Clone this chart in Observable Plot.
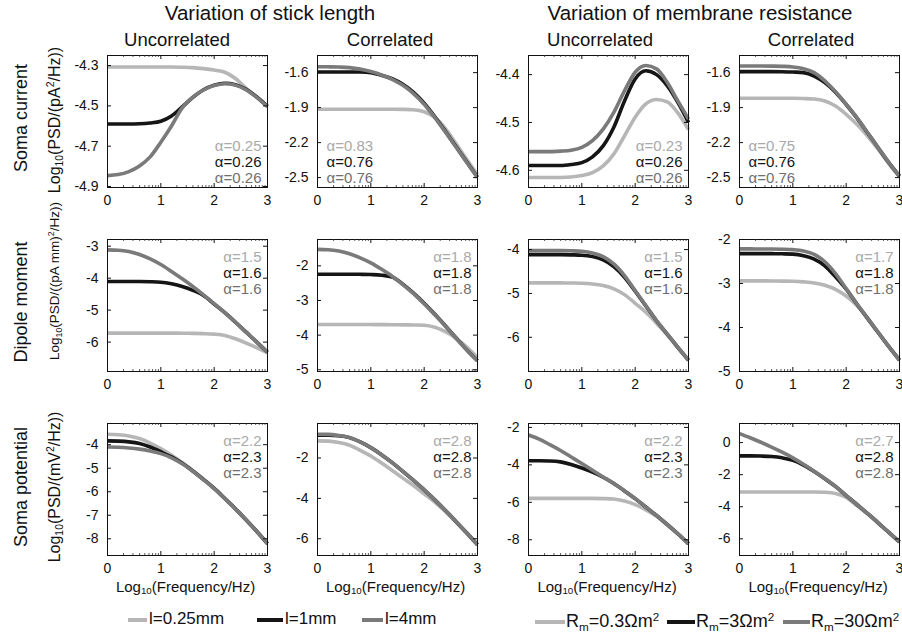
<!DOCTYPE html>
<html><head><meta charset="utf-8">
<script src="https://cdn.jsdelivr.net/npm/d3@7"></script>
<script src="https://cdn.jsdelivr.net/npm/@observablehq/plot@0.6"></script>
<style>
body{margin:0;background:#fff;}
#fig{position:relative;width:902px;height:635px;font-family:"Liberation Sans",Arial,Helvetica,sans-serif;color:#111;overflow:hidden;background:#fff;}
.lbl{position:absolute;white-space:nowrap;line-height:1;}
.c{transform:translate(-50%,-50%);}
.l{transform:translate(0,-50%);}
.rot{transform:translate(-50%,-50%) rotate(-90deg);}
.lbl sub{font-size:65%;line-height:0;vertical-align:-0.3em;}
.lbl sup{font-size:65%;line-height:0;vertical-align:0.55em;}
.swatch{position:absolute;height:4px;}
</style></head><body><div id="fig"></div>
<script>
// ---------------- data ----------------
const freq = [0, 0.2, 0.4, 0.6, 0.8, 1.0, 1.2, 1.4, 1.6, 1.8, 2.0, 2.2, 2.4, 2.6, 2.8, 3.0];
const xTicks = [0, 1, 2, 3];
const groupTitles = ["Variation of stick length", "Variation of membrane resistance"];
const columnTitles = ["Uncorrelated", "Correlated", "Uncorrelated", "Correlated"];
const quantities = ["Soma current", "Dipole moment", "Soma potential"];
const yLabels = ["Log<sub>10</sub>(PSD/(pA<sup>2</sup>/Hz))", "Log<sub>10</sub>(PSD/((pA mm)<sup>2</sup>/Hz))", "Log<sub>10</sub>(PSD/(mV<sup>2</sup>/Hz))"];
const xLabel = "Log<sub>10</sub>(Frequency/Hz)";
const stickLabels = ["l=0.25mm", "l=1mm", "l=4mm"];
const rmLabels = ["R<sub>m</sub>=0.3Ωm<sup>2</sup>", "R<sub>m</sub>=3Ωm<sup>2</sup>", "R<sub>m</sub>=30Ωm<sup>2</sup>"];

// Soma current (series order: short/low, middle, long/high)
const curLenUnc = [
  [-4.307,-4.307,-4.307,-4.307,-4.307,-4.307,-4.307,-4.308,-4.310,-4.315,-4.322,-4.333,-4.364,-4.413,-4.458,-4.503],
  [-4.590,-4.590,-4.590,-4.589,-4.585,-4.576,-4.550,-4.505,-4.458,-4.420,-4.397,-4.388,-4.395,-4.418,-4.456,-4.502],
  [-4.846,-4.841,-4.826,-4.798,-4.753,-4.680,-4.600,-4.510,-4.456,-4.421,-4.399,-4.390,-4.397,-4.420,-4.458,-4.504]];
const curLenCor = [
  [-1.914,-1.914,-1.914,-1.914,-1.914,-1.914,-1.914,-1.914,-1.915,-1.918,-1.935,-1.985,-2.080,-2.210,-2.345,-2.475],
  [-1.594,-1.594,-1.594,-1.594,-1.595,-1.600,-1.622,-1.652,-1.700,-1.770,-1.862,-1.978,-2.105,-2.236,-2.367,-2.497],
  [-1.549,-1.550,-1.552,-1.557,-1.570,-1.591,-1.620,-1.657,-1.709,-1.780,-1.871,-1.985,-2.110,-2.240,-2.370,-2.500]];
const curRmUnc = [
  [-4.615,-4.615,-4.615,-4.615,-4.614,-4.611,-4.605,-4.591,-4.566,-4.528,-4.489,-4.461,-4.452,-4.457,-4.480,-4.515],
  [-4.590,-4.590,-4.590,-4.590,-4.588,-4.584,-4.572,-4.549,-4.510,-4.455,-4.409,-4.392,-4.400,-4.423,-4.458,-4.500],
  [-4.561,-4.561,-4.561,-4.560,-4.558,-4.552,-4.538,-4.514,-4.479,-4.434,-4.395,-4.381,-4.388,-4.416,-4.455,-4.493]];
const curRmCor = [
  [-1.820,-1.820,-1.820,-1.820,-1.820,-1.820,-1.822,-1.826,-1.843,-1.886,-1.957,-2.043,-2.143,-2.257,-2.380,-2.494],
  [-1.591,-1.591,-1.591,-1.591,-1.592,-1.595,-1.600,-1.629,-1.686,-1.768,-1.873,-1.988,-2.115,-2.244,-2.372,-2.487],
  [-1.543,-1.543,-1.543,-1.544,-1.546,-1.551,-1.566,-1.600,-1.671,-1.763,-1.871,-1.986,-2.114,-2.243,-2.371,-2.486]];

// Dipole moment
const dipLenUnc = [
  [-5.720,-5.720,-5.720,-5.720,-5.720,-5.720,-5.720,-5.722,-5.727,-5.735,-5.750,-5.790,-5.896,-6.030,-6.180,-6.330],
  [-4.104,-4.104,-4.104,-4.105,-4.110,-4.125,-4.177,-4.260,-4.380,-4.540,-4.810,-5.080,-5.380,-5.690,-6.000,-6.320],
  [-3.115,-3.125,-3.167,-3.260,-3.396,-3.573,-3.790,-4.020,-4.260,-4.520,-4.800,-5.080,-5.380,-5.690,-6.000,-6.320]];
const dipLenCor = [
  [-3.694,-3.694,-3.694,-3.694,-3.694,-3.695,-3.697,-3.700,-3.703,-3.706,-3.713,-3.770,-3.897,-4.090,-4.352,-4.643],
  [-2.242,-2.242,-2.242,-2.242,-2.245,-2.252,-2.270,-2.320,-2.530,-2.790,-3.080,-3.400,-3.735,-4.085,-4.430,-4.740],
  [-1.526,-1.535,-1.574,-1.652,-1.768,-1.913,-2.097,-2.300,-2.542,-2.803,-3.094,-3.413,-3.742,-4.090,-4.430,-4.740]];
const dipRmUnc = [
  [-4.760,-4.760,-4.760,-4.760,-4.762,-4.766,-4.783,-4.821,-4.897,-5.027,-5.224,-5.430,-5.680,-5.940,-6.235,-6.530],
  [-4.114,-4.114,-4.114,-4.115,-4.120,-4.128,-4.160,-4.236,-4.388,-4.631,-4.950,-5.285,-5.623,-5.925,-6.230,-6.520],
  [-4.023,-4.023,-4.023,-4.024,-4.028,-4.038,-4.076,-4.160,-4.327,-4.593,-4.935,-5.278,-5.620,-5.924,-6.228,-6.517]];
const dipRmCor = [
  [-2.941,-2.941,-2.941,-2.942,-2.945,-2.950,-2.964,-2.987,-3.041,-3.132,-3.285,-3.500,-3.780,-4.112,-4.433,-4.739],
  [-2.321,-2.321,-2.321,-2.322,-2.325,-2.332,-2.367,-2.444,-2.597,-2.849,-3.130,-3.465,-3.793,-4.114,-4.435,-4.740],
  [-2.214,-2.214,-2.215,-2.216,-2.220,-2.230,-2.260,-2.337,-2.505,-2.773,-3.117,-3.461,-3.790,-4.112,-4.433,-4.739]];

// Soma potential
const potLenUnc = [
  [-3.560,-3.580,-3.630,-3.740,-3.930,-4.170,-4.450,-4.760,-5.100,-5.470,-5.850,-6.280,-6.720,-7.190,-7.680,-8.200],
  [-3.840,-3.850,-3.880,-3.950,-4.100,-4.300,-4.520,-4.790,-5.120,-5.480,-5.860,-6.290,-6.730,-7.200,-7.690,-8.210],
  [-4.100,-4.110,-4.140,-4.190,-4.270,-4.380,-4.560,-4.810,-5.130,-5.490,-5.870,-6.300,-6.740,-7.200,-7.690,-8.210]];
const potLenCor = [
  [-1.153,-1.165,-1.236,-1.369,-1.618,-1.900,-2.249,-2.614,-2.996,-3.361,-3.776,-4.190,-4.660,-5.180,-5.730,-6.300],
  [-0.871,-0.872,-0.900,-0.990,-1.205,-1.487,-1.834,-2.232,-2.664,-3.112,-3.577,-4.075,-4.606,-5.154,-5.718,-6.300],
  [-0.822,-0.830,-0.888,-0.988,-1.203,-1.485,-1.834,-2.232,-2.664,-3.112,-3.577,-4.075,-4.606,-5.154,-5.718,-6.300]];
const potRmUnc = [
  [-5.790,-5.790,-5.790,-5.790,-5.790,-5.790,-5.790,-5.800,-5.820,-5.930,-6.120,-6.400,-6.740,-7.200,-7.690,-8.220],
  [-3.780,-3.780,-3.790,-3.840,-3.980,-4.170,-4.390,-4.660,-5.000,-5.390,-5.800,-6.250,-6.700,-7.180,-7.680,-8.210],
  [-2.400,-2.620,-2.920,-3.230,-3.580,-3.930,-4.290,-4.645,-5.000,-5.390,-5.800,-6.250,-6.700,-7.180,-7.680,-8.210]];
const potRmCor = [
  [-3.080,-3.080,-3.080,-3.080,-3.080,-3.080,-3.080,-3.080,-3.100,-3.180,-3.420,-3.930,-4.450,-5.020,-5.610,-6.200],
  [-0.830,-0.830,-0.840,-0.870,-0.950,-1.100,-1.400,-1.800,-2.250,-2.730,-3.300,-3.850,-4.420,-5.000,-5.600,-6.200],
  [0.560,0.300,0.020,-0.280,-0.600,-0.950,-1.350,-1.780,-2.240,-2.730,-3.300,-3.850,-4.420,-5.000,-5.600,-6.200]];

const alphaSomaCurrent = [["0.25","0.26","0.26"], ["0.83","0.76","0.76"], ["0.23","0.26","0.26"], ["0.75","0.76","0.76"]];
const alphaDipole = [["1.5","1.6","1.6"], ["1.8","1.8","1.8"], ["1.5","1.6","1.6"], ["1.7","1.8","1.8"]];
const alphaPotential = [["2.2","2.3","2.3"], ["2.8","2.8","2.8"], ["2.2","2.3","2.3"], ["2.7","2.8","2.8"]];

const yTicksSomaCurrent = [[-4.3,-4.5,-4.7,-4.9], [-1.6,-1.9,-2.2,-2.5], [-4.4,-4.5,-4.6], [-1.6,-1.9,-2.2,-2.5]];
const yTicksDipole = [[-3,-4,-5,-6], [-2,-3,-4,-5], [-4,-5,-6], [-2,-3,-4,-5]];
const yTicksPotential = [[-4,-5,-6,-7,-8], [-2,-4,-6], [-2,-4,-6,-8], [0,-2,-4,-6]];

// ---------------- layout / style ----------------
const seriesGrid = [[curLenUnc, curLenCor, curRmUnc, curRmCor], [dipLenUnc, dipLenCor, dipRmUnc, dipRmCor], [potLenUnc, potLenCor, potRmUnc, potRmCor]];
const alphaGrid = [alphaSomaCurrent, alphaDipole, alphaPotential];
const tickGrid = [yTicksSomaCurrent, yTicksDipole, yTicksPotential];
const yDomains = [
  [[-4.905,-4.25], [-2.585,-1.453], [-4.636,-4.36], [-2.585,-1.453]],
  [[-6.92,-2.79], [-5.05,-1.24], [-6.78,-3.77], [-5.0,-2.0]],
  [[-8.71,-3.1], [-6.83,-0.29], [-8.84,-1.79], [-7.04,1.19]]];
const lineColors = ["#b6b6b6", "#151515", "#7a7a7a"];
const textColors = ["#a9a9a9", "#151515", "#6f6f6f"];
const FONT = '"Liberation Sans", Arial, Helvetica, sans-serif';
const ML = 50, MR = 8, MT = 8, MB = 34, W = 160, H = 132;
const colLeft = [106.5, 316.5, 528, 739];
const rowTop = [54.6, 239.2, 423.2];
const xMinor = d3.range(0, 3).flatMap(d => [2,3,4,5,6,7,8,9].map(k => d + Math.log10(k)));

const fig = document.getElementById("fig");

function panel(r, c) {
  const series = seriesGrid[r][c];
  const yTicks = tickGrid[r][c];
  const alphas = alphaGrid[r][c];
  const right = !(r === 0 && (c === 1 || c === 3));
  const top = r > 0;
  const marks = [];
  series.forEach((vals, k) => {
    const pts = freq.map((f, i) => ({f, v: vals[i]}));
    marks.push(Plot.line(pts, {x: "f", y: "v", stroke: lineColors[k], strokeWidth: 3.6, strokeLinecap: "butt", curve: "monotone-x"}));
  });
  marks.push(Plot.frame({stroke: "#111", strokeWidth: 1}));
  marks.push(Plot.tickX(xTicks, {x: d => d, insetTop: H - 4, stroke: "#111"}));
  marks.push(Plot.tickX(xTicks, {x: d => d, insetBottom: H - 4, stroke: "#111"}));
  marks.push(Plot.tickX(xMinor, {x: d => d, insetTop: H - 2, stroke: "#333", strokeWidth: 0.8}));
  marks.push(Plot.tickX(xMinor, {x: d => d, insetBottom: H - 2, stroke: "#333", strokeWidth: 0.8}));
  marks.push(Plot.tickY(yTicks, {y: d => d, insetRight: W - 4, stroke: "#111"}));
  marks.push(Plot.tickY(yTicks, {y: d => d, insetLeft: W - 4, stroke: "#111"}));
  alphas.forEach((a, k) => {
    marks.push(Plot.text([a], {
      text: d => "α=" + d,
      frameAnchor: (top ? "top" : "bottom") + "-" + (right ? "right" : "left"),
      dx: right ? -6 : 9,
      dy: top ? 22 + 16 * k : -37 + 16 * k,
      textAnchor: right ? "end" : "start",
      lineAnchor: "bottom",
      fill: textColors[k],
      fontSize: 15
    }));
  });
  marks.push(Plot.axisX({ticks: xTicks, tickSize: 0, tickPadding: 8, tickFormat: d => String(d), label: null, fill: "#111"}));
  marks.push(Plot.axisY({ticks: yTicks, tickSize: 0, tickPadding: 9, tickFormat: d => String(d), label: null, fill: "#111"}));
  const svg = Plot.plot({
    width: W + ML + MR, height: H + MT + MB,
    marginLeft: ML, marginRight: MR, marginTop: MT, marginBottom: MB,
    style: {background: "none", overflow: "visible", fontSize: "14px", fontFamily: FONT},
    x: {domain: [0, 3], label: null},
    y: {domain: yDomains[r][c], label: null},
    marks
  });
  svg.style.position = "absolute";
  svg.style.left = (colLeft[c] - ML) + "px";
  svg.style.top = (rowTop[r] - MT) + "px";
  fig.appendChild(svg);
}
for (let r = 0; r < 3; r++) for (let c = 0; c < 4; c++) panel(r, c);

function label(html, x, y, size, cls) {
  const d = document.createElement("div");
  d.className = "lbl " + cls;
  d.innerHTML = html;
  d.style.left = x + "px";
  d.style.top = y + "px";
  d.style.fontSize = size + "px";
  fig.appendChild(d);
  return d;
}
label(groupTitles[0], 270, 13, 20.5, "c");
label(groupTitles[1], 700, 13, 20.5, "c");
[177, 390, 600, 811].forEach((x, i) => label(columnTitles[i], x, 40.2, 18.5, "c"));
[118, 302, 487].forEach((y, i) => label(quantities[i], 21, y, 18, "rot"));
[[120, 16], [281, 13.5], [487, 16]].forEach(([y, s], i) => label(yLabels[i], 55, y, s, "rot"));
colLeft.forEach((x) => label(xLabel, x + W / 2 - 1, 586, 15, "c"));

function swatch(x1, x2, y, color) {
  const s = document.createElement("div");
  s.className = "swatch";
  s.style.left = x1 + "px";
  s.style.width = (x2 - x1) + "px";
  s.style.top = (y - 2) + "px";
  s.style.background = color;
  fig.appendChild(s);
}
[[128, 147], [257, 283], [362, 383]].forEach(([a, b], k) => {
  swatch(a, b, 619.5, lineColors[k]);
  label(stickLabels[k], b + 2, 618, 17, "l");
});
[[535, 565], [667, 695], [783, 810]].forEach(([a, b], k) => {
  swatch(a, b, 621.7, lineColors[k]);
  label(rmLabels[k], b + 1, 620.5, 18, "l");
});
</script></body></html>
